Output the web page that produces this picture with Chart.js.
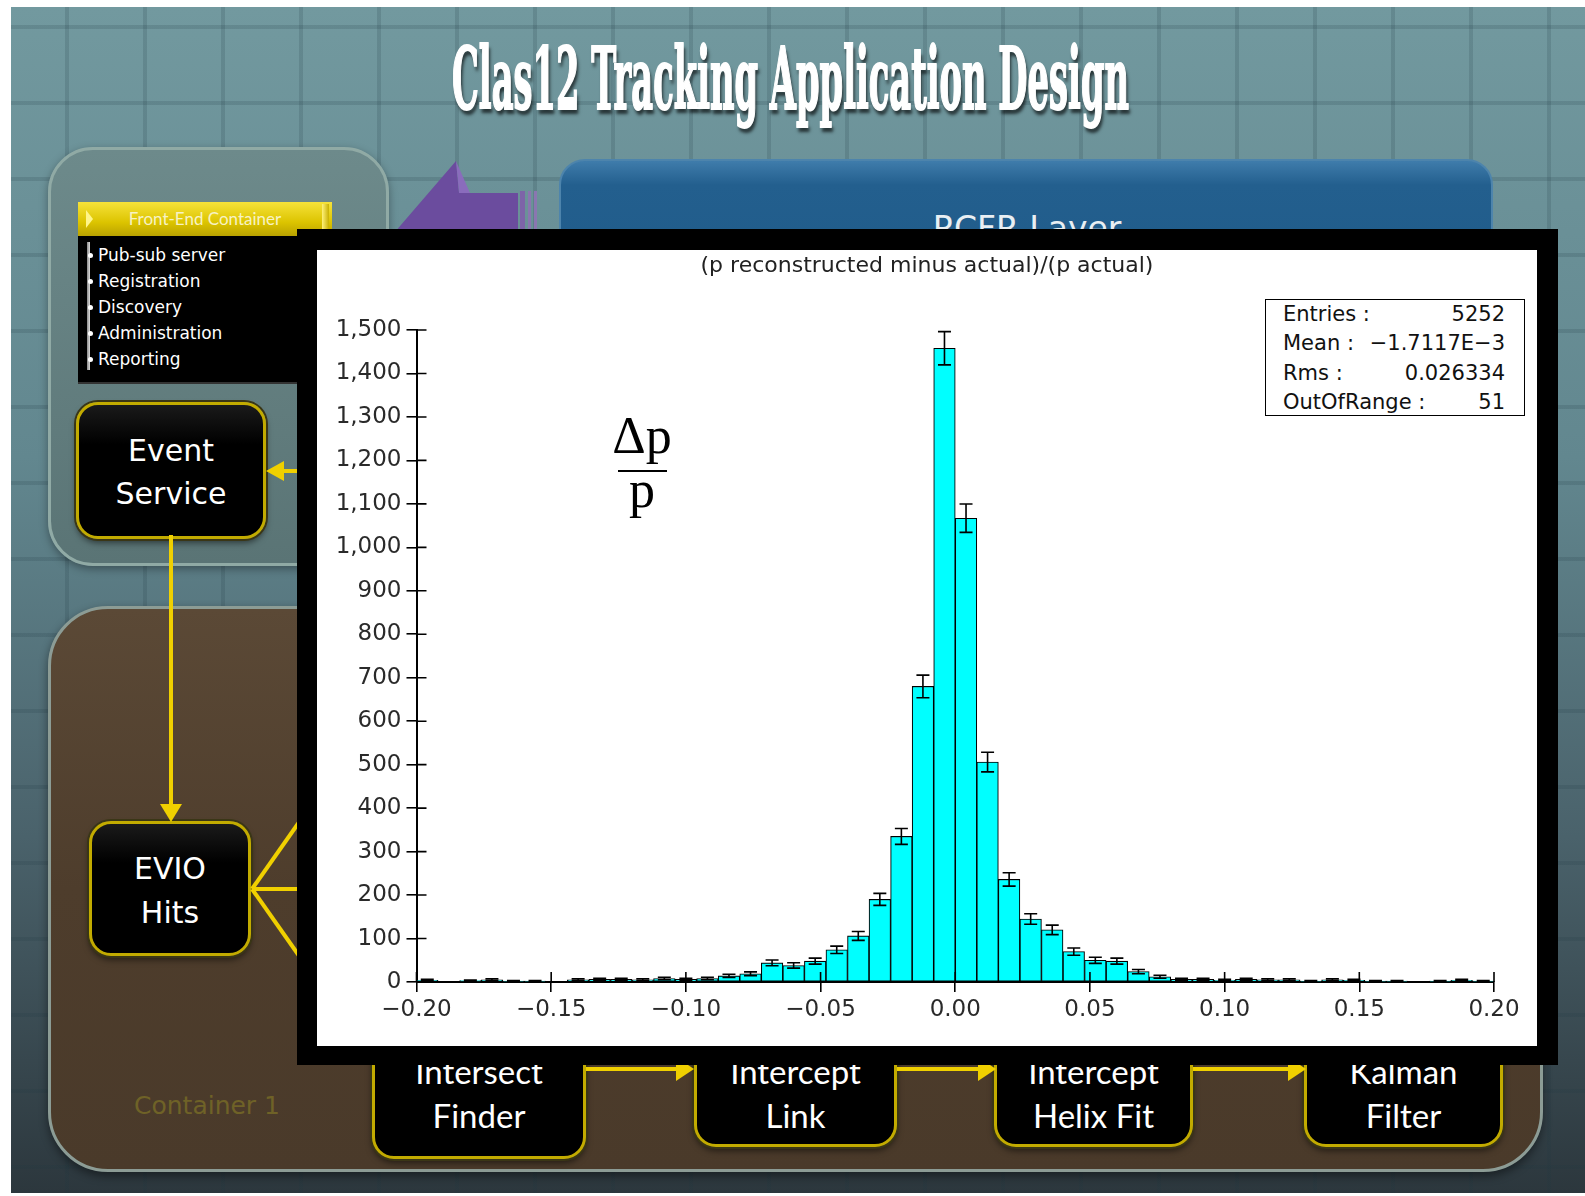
<!DOCTYPE html>
<html>
<head>
<meta charset="utf-8">
<title>Clas12 Tracking Application Design</title>
<script src="https://cdn.jsdelivr.net/npm/chart.js@4.4.1/dist/chart.umd.min.js"></script>
<style>
html, body { margin: 0; padding: 0; background: #fff; }
#page { position: relative; width: 1585px; height: 1196px; overflow: hidden; background: #fff; }
.abs { position: absolute; }
#slide {
    left: 11px; top: 7px; width: 1574px; height: 1186px;
    background-image:
        repeating-linear-gradient(90deg, transparent 0 54px, rgba(30,55,65,0.17) 54px 58px, transparent 58px 78px),
        repeating-linear-gradient(180deg, transparent 0 18px, rgba(30,55,65,0.17) 18px 22px, transparent 22px 76px),
        linear-gradient(180deg, #72999f 0%, #62878f 38%, #4a626b 70%, #2c373d 100%);
}
#title {
    left: 452px; top: 36px; white-space: nowrap; transform-origin: 0 0;
    font-family: "DejaVu Serif Condensed", "Liberation Serif", serif; font-weight: bold;
    font-size: 86px; line-height: 86px; color: #fff;
    -webkit-text-stroke: 2px #fff;
    text-shadow: 4px 5px 5px rgba(0,0,0,0.65);
}
#frontEnd {
    left: 48px; top: 147px; width: 335px; height: 413px;
    background: linear-gradient(180deg, #6d8a8b 0%, #5a7475 100%);
    border: 3px solid #90aaa5; border-radius: 45px;
    box-shadow: 0 3px 8px rgba(0,0,0,0.35);
}
#feHeader {
    left: 78px; top: 202px; width: 254px; height: 34px;
    background: linear-gradient(180deg, #f6e23a 0%, #dcc400 60%, #b9a200 100%);
    font-family: Lato, sans-serif; font-size: 17px; line-height: 34px; color: #f7f2c4;
    text-align: center;
}
#feTri {
    left: 86px; top: 210px; width: 0; height: 0;
    border-top: 9px solid transparent; border-bottom: 9px solid transparent; border-left: 7px solid #fff58a;
}
#feTri2 {
    left: 322px; top: 204px; width: 7px; height: 30px; background: linear-gradient(90deg, #fff27a, #c9b000);
}
#feList {
    left: 78px; top: 236px; width: 260px; height: 146px; background: #000;
    border-bottom: 2px solid #333;
}
#feBar { left: 87px; top: 242px; width: 3px; height: 128px; background: linear-gradient(90deg, #888, #ddd); }
#feItems {
    left: 98px; top: 242px; font-family: "DejaVu Sans", sans-serif; font-size: 17px;
    line-height: 26px; color: #fff;
}
.dot { position: absolute; width: 5px; height: 5px; border-radius: 50%; background: #fff; left: 88px; }
.node {
    background: linear-gradient(180deg, #1a1a1a 0%, #000 30%, #000 100%);
    border: 3px solid #c2ab00; border-radius: 22px;
    box-shadow: 0 0 0 2px #3a3616, 0 4px 6px rgba(0,0,0,0.5);
}
.nodeText {
    text-align: center; color: #fff; font-family: "DejaVu Sans", sans-serif;
    font-size: 30px; line-height: 43px;
}
.stepText {
    text-align: center; color: #fff; font-family: Lato, sans-serif;
    font-size: 33px; line-height: 44px;
}
#container1 {
    left: 48px; top: 606px; width: 1489px; height: 560px;
    background: linear-gradient(180deg, #5b4936 0%, #4e3d2c 50%, #4a3a2a 100%);
    border: 3px solid #8c9c95; border-radius: 60px;
    box-shadow: 0 4px 10px rgba(0,0,0,0.45);
}
#c1label {
    left: 110px; top: 1091px; width: 194px; text-align: center;
    font-family: "DejaVu Sans", sans-serif; font-size: 25px; line-height: 30px; color: #6f6227;
}
#rcfr {
    left: 559px; top: 159px; width: 930px; height: 200px;
    background: linear-gradient(180deg, #3f7cab 0%, #235f8e 12%, #1d5886 100%);
    border: 2px solid #4d84ac; border-radius: 26px;
}
#rcfrText {
    left: 827px; top: 212px; width: 400px; text-align: center;
    font-family: "DejaVu Sans", sans-serif; font-size: 33px; line-height: 33px; color: #e9eff3;
}
#frame { left: 297px; top: 229px; width: 1261px; height: 836px; background: #000; z-index: 10; }
#plot { left: 317px; top: 250px; width: 1220px; height: 796px; background: #fff; z-index: 11; }
#plotTitle {
    left: 317px; top: 252px; width: 1220px; text-align: center; z-index: 12;
    font-family: "DejaVu Sans", sans-serif; font-size: 22px; line-height: 26px; color: #222;
}
#deltaP {
    left: 592px; top: 410px; width: 100px; text-align: center; z-index: 12;
    font-family: "Liberation Serif", serif; font-size: 52px; line-height: 52px; color: #000;
}
#fracBar { left: 618px; top: 470px; width: 49px; height: 1.5px; background: #000; z-index: 12; }
#pBelow {
    left: 592px; top: 464px; width: 100px; text-align: center; z-index: 12;
    font-family: "Liberation Serif", serif; font-size: 52px; line-height: 52px; color: #000;
}
#stats {
    left: 1265px; top: 299px; width: 258px; height: 115px; z-index: 12;
    border: 1.5px solid #000; background: #fff;
    font-family: "DejaVu Sans", sans-serif; font-size: 21px; color: #111;
    box-sizing: content-box;
}
.statRow { display: flex; justify-content: space-between; height: 29.3px; line-height: 29.3px; padding: 0 19px 0 17px; }
</style>
</head>
<body>
<div id="page">
    <div id="slide" class="abs"></div>
    <div id="title" class="abs">Clas12 Tracking Application Design</div>

    <div id="rcfr" class="abs"></div>
    <div id="rcfrText" class="abs">RCFR Layer</div>

    <div id="frontEnd" class="abs"></div>
    <div id="feHeader" class="abs">Front-End Container</div>
    <div id="feTri" class="abs"></div>
    <div id="feTri2" class="abs"></div>
    <div id="feList" class="abs"></div>
    <div id="feBar" class="abs"></div>
    <div id="feItems" class="abs">
        Pub-sub server<br>Registration<br>Discovery<br>Administration<br>Reporting
    </div>
    <div class="dot" style="top:253px"></div>
    <div class="dot" style="top:279px"></div>
    <div class="dot" style="top:305px"></div>
    <div class="dot" style="top:331px"></div>
    <div class="dot" style="top:357px"></div>

    <div id="container1" class="abs"></div>
    <div id="c1label" class="abs">Container 1</div>

    <div class="abs node" style="left:76px; top:402px; width:184px; height:131px;"></div>
    <div class="abs nodeText" style="left:76px; top:429px; width:190px;">Event<br>Service</div>

    <div class="abs node" style="left:89px; top:821px; width:156px; height:129px;"></div>
    <div class="abs nodeText" style="left:89px; top:847px; width:162px; line-height:44px;">EVIO<br>Hits</div>

    <div class="abs node" style="left:372px; top:1000px; width:208px; height:153px;"></div>
    <div class="abs stepText" style="left:372px; top:1049px; width:214px;">Intersect<br>Finder</div>
    <div class="abs node" style="left:694px; top:1000px; width:197px; height:141px;"></div>
    <div class="abs stepText" style="left:694px; top:1049px; width:203px;">Intercept<br>Link</div>
    <div class="abs node" style="left:994px; top:1000px; width:193px; height:141px;"></div>
    <div class="abs stepText" style="left:994px; top:1049px; width:199px;">Intercept<br>Helix Fit</div>
    <div class="abs node" style="left:1304px; top:1000px; width:193px; height:141px;"></div>
    <div class="abs stepText" style="left:1304px; top:1049px; width:199px;">Kalman<br>Filter</div>

    <svg class="abs" style="left:0; top:0;" width="1585" height="1196">
        <polygon points="456,161 459,193 518,193 518,240 388,240" fill="#6b4c9e"/>
        <polygon points="456,161 459,193 470,193" fill="#8a6cbc"/>
        <rect x="520" y="191" width="5" height="47" fill="#7d64a8"/>
        <rect x="528" y="191" width="3" height="47" fill="#8a76b0"/>
        <rect x="534" y="191" width="3" height="47" fill="#8a76b0"/>
        <g stroke="#f0d000" stroke-width="4" fill="none">
            <line x1="171" y1="535" x2="171" y2="806"/>
            <line x1="302" y1="471" x2="282" y2="471"/>
            <line x1="252" y1="889" x2="302" y2="818"/>
            <line x1="252" y1="889" x2="302" y2="889"/>
            <line x1="252" y1="889" x2="302" y2="960"/>
            <line x1="586" y1="1069" x2="678" y2="1069"/>
            <line x1="897" y1="1069" x2="980" y2="1069"/>
            <line x1="1193" y1="1069" x2="1290" y2="1069"/>
        </g>
        <g fill="#f0d000">
            <polygon points="160,804 182,804 171,822"/>
            <polygon points="284,461 284,481 266,471"/>
            <polygon points="676,1057 676,1081 694,1069"/>
            <polygon points="978,1057 978,1081 996,1069"/>
            <polygon points="1288,1057 1288,1081 1306,1069"/>
        </g>
    </svg>

    <div id="frame" class="abs"></div>
    <div id="plot" class="abs"><canvas id="histChart" width="1220" height="796"></canvas></div>
    <div id="plotTitle" class="abs"></div>

    <div id="deltaP" class="abs">&Delta;p</div>
    <div id="fracBar" class="abs"></div>
    <div id="pBelow" class="abs">p</div>

    <div id="stats" class="abs"></div>
</div>

<script>
// Histogram of (p reconstructed - p actual)/p actual, 50 bins on [-0.2, 0.2]
const binCenters = [
    -0.196, -0.188, -0.180, -0.172, -0.164, -0.156, -0.148, -0.140, -0.132, -0.124,
    -0.116, -0.108, -0.100, -0.092, -0.084, -0.076, -0.068, -0.060, -0.052, -0.044,
    -0.036, -0.028, -0.020, -0.012, -0.004, 0.004, 0.012, 0.020, 0.028, 0.036,
    0.044, 0.052, 0.060, 0.068, 0.076, 0.084, 0.092, 0.100, 0.108, 0.116,
    0.124, 0.132, 0.140, 0.148, 0.156, 0.164, 0.172, 0.180, 0.188, 0.196
];
const counts = [
    4, 0, 3, 5, 2, 2, 0, 5, 6, 6,
    5, 8, 6, 8, 14, 19, 44, 38, 48, 74,
    106, 190, 335, 680, 1458, 1067, 506, 236, 145, 120,
    70, 50, 48, 24, 12, 6, 6, 4, 6, 5,
    5, 2, 5, 4, 2, 2, 0, 2, 4, 2
];
const xTickValues = [-0.20, -0.15, -0.10, -0.05, 0.00, 0.05, 0.10, 0.15, 0.20];
const yTickValues = [0, 100, 200, 300, 400, 500, 600, 700, 800, 900, 1000, 1100, 1200, 1300, 1400, 1500];

const chartTitle = '(p reconstructed minus actual)/(p actual)';
const statLabels = ['Entries :', 'Mean :', 'Rms :', 'OutOfRange :'];
const statValues = ['5252', '\u22121.7117E\u22123', '0.026334', '51'];

// squeeze the slide title to its condensed width
const titleEl = document.getElementById('title');
const titleWidth = titleEl.getBoundingClientRect().width;
titleEl.style.transform = 'scaleX(' + (677 / titleWidth) + ')';

document.getElementById('plotTitle').textContent = chartTitle;

// stats box
const statsEl = document.getElementById('stats');
statLabels.forEach((label, i) => {
    const row = document.createElement('div');
    row.className = 'statRow';
    const a = document.createElement('span');
    a.textContent = label;
    const b = document.createElement('span');
    b.textContent = statValues[i];
    row.appendChild(a);
    row.appendChild(b);
    statsEl.appendChild(row);
});

// draw sqrt(N) error bars on top of every filled bin
const errorBars = {
    id: 'errorBars',
    afterDatasetsDraw(chart) {
        const { ctx, scales: { x, y } } = chart;
        ctx.save();
        ctx.strokeStyle = '#000';
        ctx.lineWidth = 1.6;
        counts.forEach((n, i) => {
            if (n <= 0) return;
            const err = Math.sqrt(n);
            const px = x.getPixelForValue(binCenters[i]);
            const top = y.getPixelForValue(n + err);
            const bottom = y.getPixelForValue(Math.max(n - err, 0));
            ctx.beginPath();
            ctx.moveTo(px, top);
            ctx.lineTo(px, bottom);
            ctx.moveTo(px - 6.5, top);
            ctx.lineTo(px + 6.5, top);
            ctx.moveTo(px - 6.5, bottom);
            ctx.lineTo(px + 6.5, bottom);
            ctx.stroke();
        });
        ctx.restore();
    }
};

// ticks cross the axes, so draw the inner half too
const innerTicks = {
    id: 'innerTicks',
    afterDraw(chart) {
        const { ctx, chartArea, scales: { x, y } } = chart;
        ctx.save();
        ctx.strokeStyle = '#000';
        ctx.lineWidth = 1.6;
        ctx.beginPath();
        xTickValues.forEach(v => {
            const px = x.getPixelForValue(v);
            ctx.moveTo(px, chartArea.bottom);
            ctx.lineTo(px, chartArea.bottom - 10);
        });
        yTickValues.forEach(v => {
            const py = y.getPixelForValue(v);
            ctx.moveTo(chartArea.left, py);
            ctx.lineTo(chartArea.left + 10, py);
        });
        ctx.stroke();
        ctx.restore();
    }
};

function formatX(v) {
    if (Math.abs(v) < 1e-9) return '0.00';
    return (v < 0 ? '\u2212' : '') + Math.abs(v).toFixed(2);
}

Chart.defaults.font.family = '"DejaVu Sans", sans-serif';

const ctx = document.getElementById('histChart').getContext('2d');
new Chart(ctx, {
    type: 'bar',
    data: {
        datasets: [{
            data: binCenters.map((c, i) => ({ x: c, y: counts[i] })),
            backgroundColor: '#00ffff',
            borderColor: '#000',
            borderWidth: 1.1,
            borderSkipped: false,
            barPercentage: 1,
            categoryPercentage: 1
        }]
    },
    options: {
        responsive: false,
        animation: false,
        devicePixelRatio: 1,
        layout: { padding: { left: 0, right: 43, top: 80, bottom: 0 } },
        plugins: {
            legend: { display: false },
            tooltip: { enabled: false },
            title: { display: false }
        },
        scales: {
            x: {
                type: 'linear',
                min: -0.2,
                max: 0.2,
                offset: false,
                afterBuildTicks: scale => { scale.ticks = xTickValues.map(v => ({ value: v })); },
                afterFit: scale => { scale.height = 64; },
                ticks: {
                    color: '#2a2a2a',
                    font: { size: 23 },
                    padding: 4,
                    maxRotation: 0,
                    autoSkip: false,
                    callback: v => formatX(v)
                },
                grid: { drawOnChartArea: false, offset: false, tickLength: 10, color: '#000', lineWidth: 1.6 },
                border: { color: '#000', width: 2 }
            },
            y: {
                min: 0,
                max: 1500,
                afterBuildTicks: scale => { scale.ticks = yTickValues.map(v => ({ value: v })); },
                afterFit: scale => { scale.width = 99.5; },
                ticks: {
                    color: '#2a2a2a',
                    font: { size: 23 },
                    padding: 5,
                    autoSkip: false,
                    callback: v => v.toLocaleString('en-US')
                },
                grid: { drawOnChartArea: false, tickLength: 10, color: '#000', lineWidth: 1.6 },
                border: { color: '#000', width: 2 }
            }
        }
    },
    plugins: [errorBars, innerTicks]
});
</script>
</body>
</html>
